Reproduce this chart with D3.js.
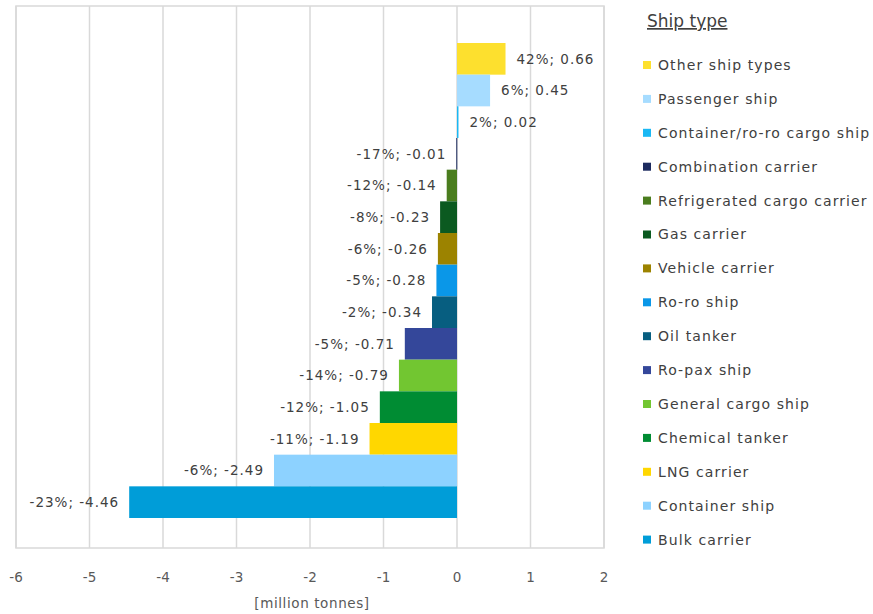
<!DOCTYPE html>
<html>
<head>
<meta charset="utf-8">
<title>Ship type change</title>
<script src="https://d3js.org/d3.v7.min.js"></script>
<style>
  body { margin: 0; background: #fff; font-family: "DejaVu Sans", Verdana, sans-serif; }
  text { fill: #404040; }
</style>
</head>
<body>
<script>
// chart data, top bar first
var shipTypes = ["Other ship types", "Passenger ship", "Container/ro-ro cargo ship", "Combination carrier",
  "Refrigerated cargo carrier", "Gas carrier", "Vehicle carrier", "Ro-ro ship", "Oil tanker", "Ro-pax ship",
  "General cargo ship", "Chemical tanker", "LNG carrier", "Container ship", "Bulk carrier"];
var changeMt = [0.66, 0.45, 0.02, -0.01, -0.14, -0.23, -0.26, -0.28, -0.34, -0.71, -0.79, -1.05, -1.19, -2.49, -4.46];
var changePct = ["42%", "6%", "2%", "-17%", "-12%", "-8%", "-6%", "-5%", "-2%", "-5%", "-14%", "-12%", "-11%", "-6%", "-23%"];
var shipColors = ["#fde02e", "#a6dcff", "#1ab8f4", "#1c2a5e", "#4a7d1e", "#0b5a20", "#9c8300", "#0a97e8",
  "#075e80", "#34479a", "#72c631", "#008c33", "#ffd700", "#8dd2ff", "#009dd8"];
var xTicks = [-6, -5, -4, -3, -2, -1, 0, 1, 2];

var width = 873, height = 614;
var svg = d3.select("body").append("svg")
  .attr("width", width)
  .attr("height", height);

// plot frame
var plotLeft = 16, plotRight = 604, plotTop = 6, plotBottom = 548;

var x = d3.scaleLinear().domain([-6, 2]).range([plotLeft, plotRight]);
var y = d3.scaleBand().domain(shipTypes).range([43, 518]).padding(0);

// gridlines
svg.append("g").selectAll("line")
  .data(xTicks)
  .enter().append("line")
  .attr("x1", function(d) { return x(d); })
  .attr("x2", function(d) { return x(d); })
  .attr("y1", plotTop)
  .attr("y2", plotBottom)
  .attr("stroke", "#d9d9d9")
  .attr("stroke-width", 1.5);

svg.append("rect")
  .attr("x", plotLeft).attr("y", plotTop)
  .attr("width", plotRight - plotLeft).attr("height", plotBottom - plotTop)
  .attr("fill", "none")
  .attr("stroke", "#d9d9d9")
  .attr("stroke-width", 1.5);

// bars
svg.append("g").selectAll("rect")
  .data(shipTypes)
  .enter().append("rect")
  .attr("x", function(d, i) { return x(Math.min(0, changeMt[i])); })
  .attr("y", function(d) { return y(d); })
  .attr("width", function(d, i) { return Math.max(1, Math.abs(x(changeMt[i]) - x(0))); })
  .attr("height", y.bandwidth())
  .attr("fill", function(d, i) { return shipColors[i]; });

// value labels
svg.append("g").selectAll("text")
  .data(shipTypes)
  .enter().append("text")
  .attr("x", function(d, i) { return changeMt[i] >= 0 ? x(changeMt[i]) + 11 : x(changeMt[i]) - 10; })
  .attr("y", function(d) { return y(d) + y.bandwidth() / 2; })
  .attr("dy", "0.35em")
  .attr("text-anchor", function(d, i) { return changeMt[i] >= 0 ? "start" : "end"; })
  .style("font-size", "13.5px")
  .style("letter-spacing", "1px")
  .text(function(d, i) { return changePct[i] + "; " + changeMt[i].toFixed(2); });

// x axis labels
svg.append("g").selectAll("text")
  .data(xTicks)
  .enter().append("text")
  .attr("x", function(d) { return x(d); })
  .attr("y", 582)
  .attr("text-anchor", "middle")
  .style("font-size", "13.5px")
  .style("fill", "#595959")
  .text(function(d) { return d; });

svg.append("text")
  .attr("x", x(-2) + 2)
  .attr("y", 608)
  .attr("text-anchor", "middle")
  .style("font-size", "13.5px")
  .style("letter-spacing", "0.6px")
  .style("fill", "#595959")
  .text("[million tonnes]");

// legend
svg.append("text")
  .attr("x", 647)
  .attr("y", 27)
  .style("font-size", "17px")
  .style("text-decoration", "underline")
  .text("Ship type");

var legend = svg.append("g").selectAll("g")
  .data(shipTypes)
  .enter().append("g")
  .attr("transform", function(d, i) { return "translate(643," + (65 + i * 33.9) + ")"; });

legend.append("rect")
  .attr("x", 0).attr("y", -4)
  .attr("width", 8).attr("height", 8)
  .attr("fill", function(d, i) { return shipColors[i]; });

legend.append("text")
  .attr("x", 15)
  .attr("dy", "0.35em")
  .style("font-size", "14px")
  .style("letter-spacing", "1.1px")
  .text(function(d) { return d; });
</script>
</body>
</html>
